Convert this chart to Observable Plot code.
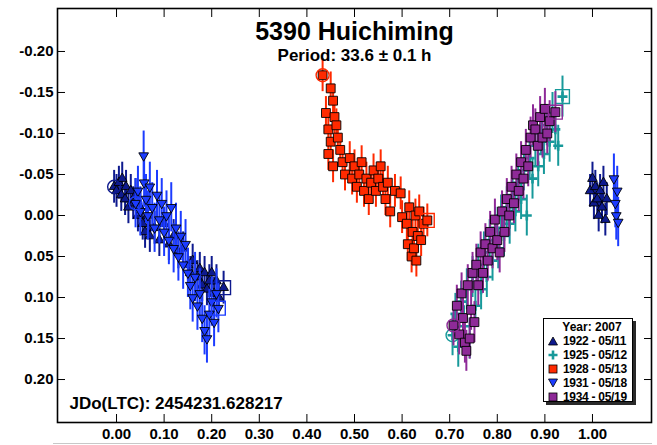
<!DOCTYPE html>
<html><head><meta charset="utf-8">
<script src="https://cdn.jsdelivr.net/npm/d3@7"></script>
<script src="https://cdn.jsdelivr.net/npm/@observablehq/plot@0.6"></script>
<style>
body{margin:0;background:#fff;font-family:"Liberation Sans",Arial,Helvetica,sans-serif;}
#wrap{position:relative;width:657px;height:445px;overflow:hidden;}
#legend{position:absolute;left:543px;top:318px;width:90px;height:84px;border:1px solid #000;background:#fff;box-shadow:3px 3px 0 #2a2a2a;font-weight:bold;font-size:12px;line-height:14px;color:#000;padding-top:1px;box-sizing:border-box;white-space:nowrap;}
#legend .hd{text-align:center;padding-left:8px;}
#legend .row{display:flex;align-items:center;height:14px;white-space:nowrap;}
#legend svg{margin-left:4px;margin-right:5px;flex:none;}
#legend span{letter-spacing:-0.3px;}
#baseline{position:absolute;left:53px;top:443px;width:599px;height:1px;background:#c8c8c8;}
</style></head><body>
<div id="wrap"><div id="baseline"></div></div>
<script>
// ---- data ----
const titleText = "5390 Huichiming";
const subtitleText = "Period: 33.6 \u00b1 0.1 h";
const epochText = "JDo(LTC): 2454231.628217";
const legendTitle = "Year: 2007";
const xTicks = [0.0,0.1,0.2,0.3,0.4,0.5,0.6,0.7,0.8,0.9,1.0];
const yTicks = [-0.20,-0.15,-0.10,-0.05,0.00,0.05,0.10,0.15,0.20];
const sessionLabels = ["1922 - 05/11","1925 - 05/12","1928 - 05/13","1931 - 05/18","1934 - 05/19"];
const sessionColors = ["#0e1a8e","#17999a","#ff2a00","#1c3cff","#8e2a98"];
const sessionErrors = [0.02,0.025,0.02,0.03,0.025];

const phase1922 = [-0.005,0.000,0.005,0.010,0.012,0.018,0.020,0.025,0.030,0.035,0.040,0.045,0.050,0.055,0.060,0.065,0.070,0.080,0.090,0.100,0.110,0.120,0.130,0.140,0.150,0.155,0.160,0.170,0.175,0.180,0.185,0.190,0.195,0.200,0.205,0.210,0.215,0.225];
const mag1922   = [-0.035,-0.030,-0.040,-0.025,-0.045,-0.020,-0.035,-0.010,-0.030,-0.015,-0.025,0.000,-0.010,0.010,0.020,0.000,0.025,0.015,0.030,0.010,0.035,0.025,0.045,0.040,0.060,0.070,0.055,0.075,0.065,0.085,0.070,0.090,0.080,0.070,0.095,0.080,0.100,0.088];
const phase1922Wrap = [0.995,1.000,1.003,1.006,1.010,1.013,1.016,1.020,1.023,1.027,1.030];
const mag1922Wrap   = [-0.030,-0.045,-0.015,-0.035,-0.020,0.000,-0.030,-0.010,-0.040,0.005,-0.020];

const phase1925 = [0.706,0.712,0.718,0.724,0.730,0.736,0.742,0.748,0.754,0.760,0.766,0.772,0.778,0.784,0.790,0.796,0.802,0.808,0.814,0.820,0.826,0.832,0.838,0.844,0.850,0.856,0.862,0.868,0.874,0.880,0.886,0.892,0.898,0.904,0.910,0.916,0.922,0.928,0.937];
const mag1925   = [0.146,0.120,0.160,0.105,0.135,0.090,0.150,0.075,0.110,0.060,0.090,0.045,0.075,0.030,0.055,0.015,0.040,0.000,0.025,-0.010,0.010,-0.025,-0.005,-0.040,-0.020,-0.055,0.000,-0.070,-0.045,-0.085,-0.060,-0.100,-0.075,-0.110,-0.090,-0.125,-0.105,-0.085,-0.145];

const phase1928 = [0.433,0.450,0.455,0.440,0.458,0.445,0.462,0.450,0.465,0.445,0.470,0.455,0.475,0.480,0.490,0.495,0.500,0.505,0.510,0.515,0.520,0.525,0.530,0.535,0.540,0.545,0.550,0.555,0.560,0.565,0.570,0.575,0.585,0.597,0.600,0.610,0.612,0.615,0.620,0.622,0.625,0.628,0.630,0.633,0.636,0.640,0.645,0.653];
const mag1928   = [-0.171,-0.155,-0.140,-0.125,-0.120,-0.105,-0.110,-0.090,-0.095,-0.075,-0.080,-0.060,-0.065,-0.050,-0.070,-0.045,-0.060,-0.035,-0.050,-0.065,-0.030,-0.045,-0.020,-0.040,-0.055,-0.030,-0.045,-0.060,-0.035,-0.020,-0.040,-0.005,-0.030,-0.027,0.002,0.010,0.035,-0.010,0.050,0.020,0.040,0.000,0.055,0.025,-0.005,0.030,0.010,0.006];

const phase1931 = [0.040,0.045,0.050,0.057,0.058,0.062,0.066,0.070,0.075,0.080,0.085,0.090,0.095,0.100,0.105,0.110,0.115,0.120,0.125,0.130,0.135,0.140,0.145,0.150,0.155,0.160,0.165,0.170,0.175,0.180,0.185,0.190,0.195,0.200,0.205,0.210,0.214];
const mag1931   = [-0.015,-0.030,-0.005,-0.073,-0.040,-0.020,0.000,-0.035,-0.010,0.015,-0.025,0.005,-0.015,0.020,0.000,0.030,-0.010,0.040,0.015,0.050,0.025,0.060,0.035,0.070,0.085,0.100,0.075,0.110,0.095,0.125,0.140,0.150,0.120,0.105,0.130,0.095,0.113];
const phase1931Wrap = [1.045,1.048,1.050,1.052,1.054];
const mag1931Wrap   = [-0.045,-0.015,0.000,-0.030,0.008];

const phase1934 = [0.708,0.715,0.720,0.725,0.728,0.732,0.735,0.738,0.742,0.745,0.748,0.752,0.756,0.760,0.765,0.770,0.775,0.780,0.785,0.790,0.795,0.800,0.805,0.810,0.815,0.820,0.825,0.830,0.835,0.840,0.845,0.850,0.855,0.860,0.865,0.870,0.875,0.880,0.885,0.890,0.895,0.900,0.905,0.910,0.922];
const mag1934   = [0.134,0.110,0.145,0.095,0.125,0.155,0.165,0.085,0.150,0.115,0.070,0.130,0.060,0.085,0.045,0.070,0.035,0.055,0.020,0.040,0.005,0.030,0.045,-0.005,0.020,-0.020,0.000,-0.035,-0.015,-0.050,-0.030,-0.065,-0.045,-0.080,-0.060,-0.095,-0.110,-0.105,-0.085,-0.120,-0.095,-0.130,-0.100,-0.115,-0.126];

// ---- build tables ----
const toRows = (ph, mg) => ph.map((p, i) => ({phase: p, mag: mg[i]}));
const series = [
  {main: toRows(phase1922, mag1922), wrap: toRows(phase1922Wrap, mag1922Wrap)},
  {main: toRows(phase1925, mag1925), wrap: []},
  {main: toRows(phase1928, mag1928), wrap: []},
  {main: toRows(phase1931, mag1931), wrap: toRows(phase1931Wrap, mag1931Wrap)},
  {main: toRows(phase1934, mag1934), wrap: []}
];

const triDown = {draw(ctx, size) {
  const y = -Math.sqrt(size / (Math.sqrt(3) * 3));
  ctx.moveTo(0, -y * 2);
  ctx.lineTo(-Math.sqrt(3) * y, y);
  ctx.lineTo(Math.sqrt(3) * y, y);
  ctx.closePath();
}};
const markerStyle = [
  {symbol: "triangle", r: 3.6, filled: true},
  {symbol: "plus", r: 3.3, filled: false},
  {symbol: "square", r: 5, filled: true},
  {symbol: triDown, r: 3.6, filled: true},
  {symbol: "square", r: 5, filled: true}
];

const marks = [];
series.forEach((s, k) => {
  const col = sessionColors[k], err = sessionErrors[k], st = markerStyle[k];
  const all = s.main.concat(s.wrap);
  marks.push(Plot.ruleX(all, {x: "phase", y1: d => d.mag - err, y2: d => d.mag + err, stroke: col, strokeWidth: 2}));
  if (st.filled) {
    marks.push(Plot.dot(all, {x: "phase", y: "mag", symbol: st.symbol, r: st.r, fill: col, stroke: "#000", strokeWidth: 0.9}));
  } else {
    marks.push(Plot.dot(all, {x: "phase", y: "mag", symbol: st.symbol, r: st.r, stroke: col, strokeWidth: 2.6}));
  }
  marks.push(Plot.dot([s.main[0]], {x: "phase", y: "mag", symbol: "circle", r: 6.5, stroke: col, strokeWidth: 1.4, fill: "none"}));
  marks.push(Plot.dot([s.main[s.main.length - 1]], {x: "phase", y: "mag", symbol: "square", r: 7.8, stroke: col, strokeWidth: 1.4, fill: "none"}));
});

const fmt = d => d.toFixed(2);
const chart = Plot.plot({
  width: 657, height: 445,
  marginLeft: 57, marginRight: 6, marginTop: 8, marginBottom: 23,
  style: {fontFamily: '"Liberation Sans", Arial, sans-serif', background: "#fff", color: "#000"},
  x: {domain: [-0.124, 1.124]},
  y: {domain: [-0.2524, 0.2524], reverse: true},
  marks: [
    ...marks,
    Plot.axisX(xTicks, {anchor: "bottom", tickSize: 0, tickPadding: 6, tickFormat: fmt, fontSize: 15, fontWeight: "bold", label: null}),
    Plot.axisY(yTicks, {anchor: "left", tickSize: 0, tickPadding: 4, tickFormat: fmt, fontSize: 15, fontWeight: "bold", label: null}),
    Plot.axisX(xTicks, {anchor: "bottom", tickSize: -8, tickFormat: () => "", label: null}),
    Plot.axisX(xTicks, {anchor: "top", tickSize: -8, tickFormat: () => "", label: null}),
    Plot.axisY(yTicks, {anchor: "left", tickSize: -8, tickFormat: () => "", label: null}),
    Plot.axisY(yTicks, {anchor: "right", tickSize: -8, tickFormat: () => "", label: null}),
    Plot.frame({stroke: "#000", strokeWidth: 1.6}),
    Plot.text([titleText], {text: d => d, frameAnchor: "top", dy: 14, fontSize: 25, fontWeight: "bold"}),
    Plot.text([subtitleText], {text: d => d, frameAnchor: "top", dy: 40, fontSize: 17, fontWeight: "bold"}),
    Plot.text([epochText], {text: d => d, frameAnchor: "bottom-left", dx: 12, dy: -14, textAnchor: "start", fontSize: 17, fontWeight: "bold"})
  ]
});
const wrap = document.getElementById("wrap");
wrap.insertBefore(chart, wrap.firstChild);

// ---- legend ----
const legend = document.createElement("div");
legend.id = "legend";
const hd = document.createElement("div");
hd.className = "hd"; hd.textContent = legendTitle;
legend.appendChild(hd);
const iconSvg = k => {
  const c = sessionColors[k];
  if (k === 0) return `<polygon points="5,1 9.5,9 0.5,9" fill="${c}" stroke="#000" stroke-width="0.8"/>`;
  if (k === 1) return `<path d="M0.5,5H9.5M5,0.5V9.5" stroke="${c}" stroke-width="2.6"/>`;
  if (k === 3) return `<polygon points="0.5,1 9.5,1 5,9" fill="${c}" stroke="#000" stroke-width="0.8"/>`;
  return `<rect x="1" y="1" width="8" height="8" fill="${c}" stroke="#000" stroke-width="0.8"/>`;
};
sessionLabels.forEach((lab, k) => {
  const row = document.createElement("div");
  row.className = "row";
  row.innerHTML = `<svg width="10" height="10" viewBox="0 0 10 10">${iconSvg(k)}</svg><span>${lab}</span>`;
  legend.appendChild(row);
});
wrap.appendChild(legend);
</script>
</body></html>
